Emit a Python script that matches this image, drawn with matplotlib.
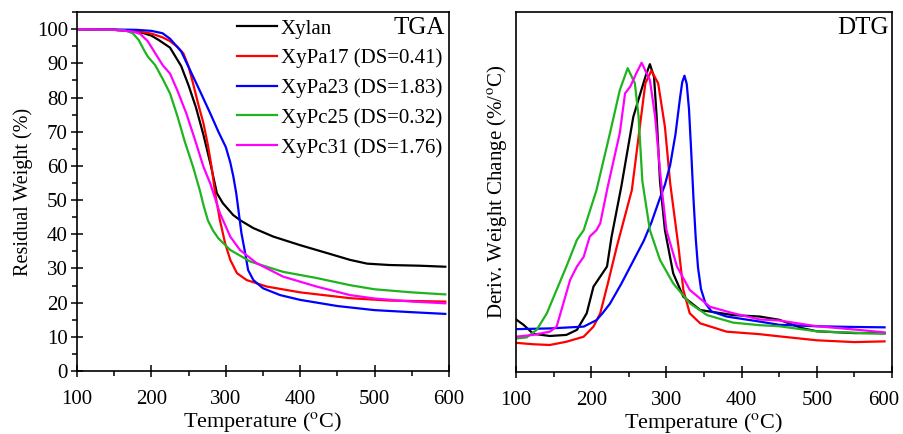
import matplotlib
matplotlib.use('Agg')
import matplotlib.pyplot as plt
import matplotlib.transforms as mtransforms
from matplotlib.ticker import MultipleLocator

plt.rcParams['font.family'] = ['Liberation Serif', 'DejaVu Serif']
plt.rcParams['mathtext.fontset'] = 'stix'

labels = ['Xylan', 'XyPa17 (DS=0.41)', 'XyPa23 (DS=1.83)', 'XyPc25 (DS=0.32)', 'XyPc31 (DS=1.76)']
colors = ['black', '#ff0000', '#0000ff', '#1fb31f', '#ff00ff']
x_ticks = [100, 200, 300, 400, 500, 600]

# TGA: residual weight (%) vs temperature (oC)
tga_xylan_t = [100, 150, 175, 190, 200, 210, 225, 240, 250, 260, 270, 280, 288, 296, 310, 320, 337, 364, 400, 436, 467, 490, 520, 560, 595]
tga_xylan_w = [100, 99.8, 99.4, 98.8, 98.1, 96.8, 94.6, 89.2, 83.5, 77, 69, 60, 52, 49.1, 45.6, 44.0, 41.8, 39.3, 36.8, 34.5, 32.5, 31.4, 31.0, 30.8, 30.5]

tga_pa17_t = [100, 150, 180, 200, 215, 225, 235, 243, 250, 256, 263, 270, 276, 281, 286, 292, 299, 306, 315, 328, 355, 400, 467, 520, 595]
tga_pa17_w = [100, 99.8, 99.4, 98.7, 97.6, 96.5, 94.8, 92.9, 89, 84.1, 78, 72.4, 66, 59.5, 51.5, 44.2, 37.4, 32.5, 28.6, 26.6, 24.7, 23.0, 21.3, 20.6, 20.3]

tga_pa23_t = [100, 150, 180, 200, 215, 225, 240, 252, 265, 279, 290, 300, 306, 310, 314, 317, 321, 326, 330, 337, 350, 373, 400, 450, 500, 550, 595]
tga_pa23_w = [100, 99.9, 99.8, 99.5, 98.8, 97.2, 93.5, 88, 82, 75.4, 70, 65.5, 61, 57, 52, 47, 40.3, 34.5, 29.5, 26.6, 24.2, 22.2, 20.8, 19.0, 17.8, 17.2, 16.7]

tga_pc25_t = [100, 150, 165, 175, 183, 190, 195, 205, 215, 225, 235, 245, 256, 265, 270, 276, 283, 290, 306, 333, 377, 422, 467, 500, 550, 595]
tga_pc25_w = [100, 99.8, 99.6, 98.8, 96.8, 93.9, 92, 89.5, 85.5, 81.2, 74.5, 67, 59.7, 52.9, 48.5, 44, 41, 38.8, 35.4, 32, 29, 27.2, 25.1, 23.9, 23.0, 22.4]

tga_pc31_t = [100, 150, 175, 185, 195, 205, 215, 225, 235, 247, 258, 270, 279, 292, 306, 319, 341, 377, 422, 467, 500, 550, 595]
tga_pc31_w = [100, 99.8, 99.3, 98.6, 96.5, 93, 89.5, 87, 82, 75.3, 68, 59.7, 54.9, 46.2, 39.3, 35.4, 31.6, 27.6, 24.7, 22.2, 21.2, 20.3, 19.8]

# DTG: derivative weight change (arbitrary units, no scale shown)
dtg_xylan_t = [100, 110, 123, 145, 167, 181, 194, 203, 212, 221, 227, 240, 256, 272, 278, 283.5, 287, 291.5, 298, 309, 322.5, 345, 389, 424, 450, 480, 500, 550, 590]
dtg_xylan_v = [14.6, 13.1, 10.6, 10.0, 10.3, 11.7, 16.3, 23.7, 26.5, 29.3, 37.5, 51.5, 70.9, 82.0, 85.5, 82.0, 70.9, 52.8, 39.4, 27.4, 20.9, 17.2, 15.8, 15.4, 14.5, 12.2, 11.3, 10.8, 10.8]

dtg_pa17_t = [100, 123, 145, 167, 190, 203, 212, 222, 234, 254, 263, 272, 280, 289, 298, 305, 316, 322.5, 331, 345, 380, 424, 450, 500, 550, 590]
dtg_pa17_v = [8.1, 7.7, 7.5, 8.4, 9.8, 12.6, 16.3, 24.5, 34.8, 50.5, 65.4, 80.2, 83.7, 80.2, 68.1, 52.4, 34.8, 22.8, 16.3, 13.5, 11.2, 10.5, 9.9, 8.8, 8.3, 8.5]

dtg_pa23_t = [100, 145, 190, 207, 215, 225, 240, 250, 260, 270, 280, 290, 298, 305, 312, 318, 321, 324, 327, 330, 333, 336, 339, 342, 346, 352, 360, 380, 424, 450, 500, 550, 590]
dtg_pa23_v = [11.9, 12.1, 12.6, 14.4, 16.3, 19.0, 24.5, 28.5, 32.5, 36.5, 41.5, 47.5, 52.0, 57.5, 66.0, 76.0, 80.5, 82.3, 80.0, 73.0, 61.0, 48.0, 37.0, 29.0, 23.0, 19.0, 16.8, 15.4, 14.0, 13.1, 12.7, 12.5, 12.4]

dtg_pc25_t = [100, 114, 127.5, 141, 154, 167, 181, 190, 207, 225, 238, 248.5, 258, 263, 268, 278, 291.5, 309, 331, 354, 389, 424, 450, 500, 550, 590]
dtg_pc25_v = [9.3, 9.6, 11.7, 16.3, 22.8, 29.3, 36.7, 39.4, 50.5, 66.4, 78.3, 84.4, 80.2, 70.9, 53.0, 39.4, 31.1, 24.6, 19.1, 15.8, 13.7, 13.0, 12.7, 11.3, 10.9, 10.6]

dtg_pc31_t = [100, 123, 145, 154, 163, 172, 181, 190, 198, 207, 212, 222, 238, 245, 252, 260, 267, 278, 285, 291, 294, 300, 314, 331, 358, 389, 424, 450, 500, 550, 590]
dtg_pc31_v = [9.8, 10.3, 11.2, 12.6, 19.1, 25.6, 29.3, 32.0, 37.6, 39.4, 41.3, 51.5, 66.4, 77.4, 79.3, 83.0, 85.9, 81.1, 70.9, 57.0, 50.5, 39.4, 29.3, 22.8, 18.1, 16.3, 14.6, 14.3, 12.7, 11.8, 11.0]

tga = [(tga_xylan_t, tga_xylan_w), (tga_pa17_t, tga_pa17_w), (tga_pa23_t, tga_pa23_w),
       (tga_pc25_t, tga_pc25_w), (tga_pc31_t, tga_pc31_w)]
dtg = [(dtg_xylan_t, dtg_xylan_v), (dtg_pa17_t, dtg_pa17_v), (dtg_pa23_t, dtg_pa23_v),
       (dtg_pc25_t, dtg_pc25_v), (dtg_pc31_t, dtg_pc31_v)]

fig = plt.figure(figsize=(9.04, 4.34), dpi=100)
ax1 = fig.add_axes([0.0852, 0.1452, 0.4115, 0.827])
ax2 = fig.add_axes([0.5708, 0.1429, 0.416, 0.8295])

for (t, w), c, lab in zip(tga, colors, labels):
    ax1.plot(t, w, color=c, lw=1.6, label=lab)
for (t, v), c in zip(dtg, colors):
    ax2.plot(t, v, color=c, lw=1.6)

for ax in (ax1, ax2):
    ax.set_xlim(100, 600)
    ax.set_xticks(x_ticks)
    ax.xaxis.set_minor_locator(MultipleLocator(50))
    ax.tick_params(which='both', top=False, right=False, labelsize=15)
    ax.tick_params(which='major', direction='inout', length=9, width=1.1)
    ax.tick_params(which='minor', direction='out', length=3.5, width=1.1)
    ax.tick_params(axis='x', which='major', pad=9)
    ax.tick_params(axis='y', which='major', pad=2)
    for s in ax.spines.values():
        s.set_linewidth(1.2)
    ax.set_xlabel(r'Temperature ($^{\rm o}$C)', fontsize=16, labelpad=1)

ax1.set_ylim(0, 105)
ax1.yaxis.set_major_locator(MultipleLocator(10))
ax1.yaxis.set_minor_locator(MultipleLocator(5))
ax1.set_ylabel('Residual Weight (%)', fontsize=14.5, labelpad=3)
ax1.text(0.99, 0.985, 'TGA', transform=ax1.transAxes, ha='right', va='top', fontsize=18)
ax1.legend(loc='upper left', bbox_to_anchor=(237 / 904, 1 - 19 / 434), bbox_transform=fig.transFigure,
           frameon=False, fontsize=15, handlelength=1.9, handletextpad=0.2, labelspacing=0.48,
           borderpad=0, borderaxespad=0)

ax2.set_ylim(0, 100)
ax2.set_yticks([])
ax2.set_ylabel(r'Deriv. Weight Change (%/$^{\rm o}$C)', fontsize=15, labelpad=5)
ax2.text(0.99, 0.985, 'DTG', transform=ax2.transAxes, ha='right', va='top', fontsize=18)

# nudge the "600" label of the right panel so it stays inside the figure
last = ax2.get_xticklabels()[-1]
last.set_transform(last.get_transform() + mtransforms.ScaledTranslation(-6 / 72, 0, fig.dpi_scale_trans))

fig.savefig('out.png', dpi=100)
